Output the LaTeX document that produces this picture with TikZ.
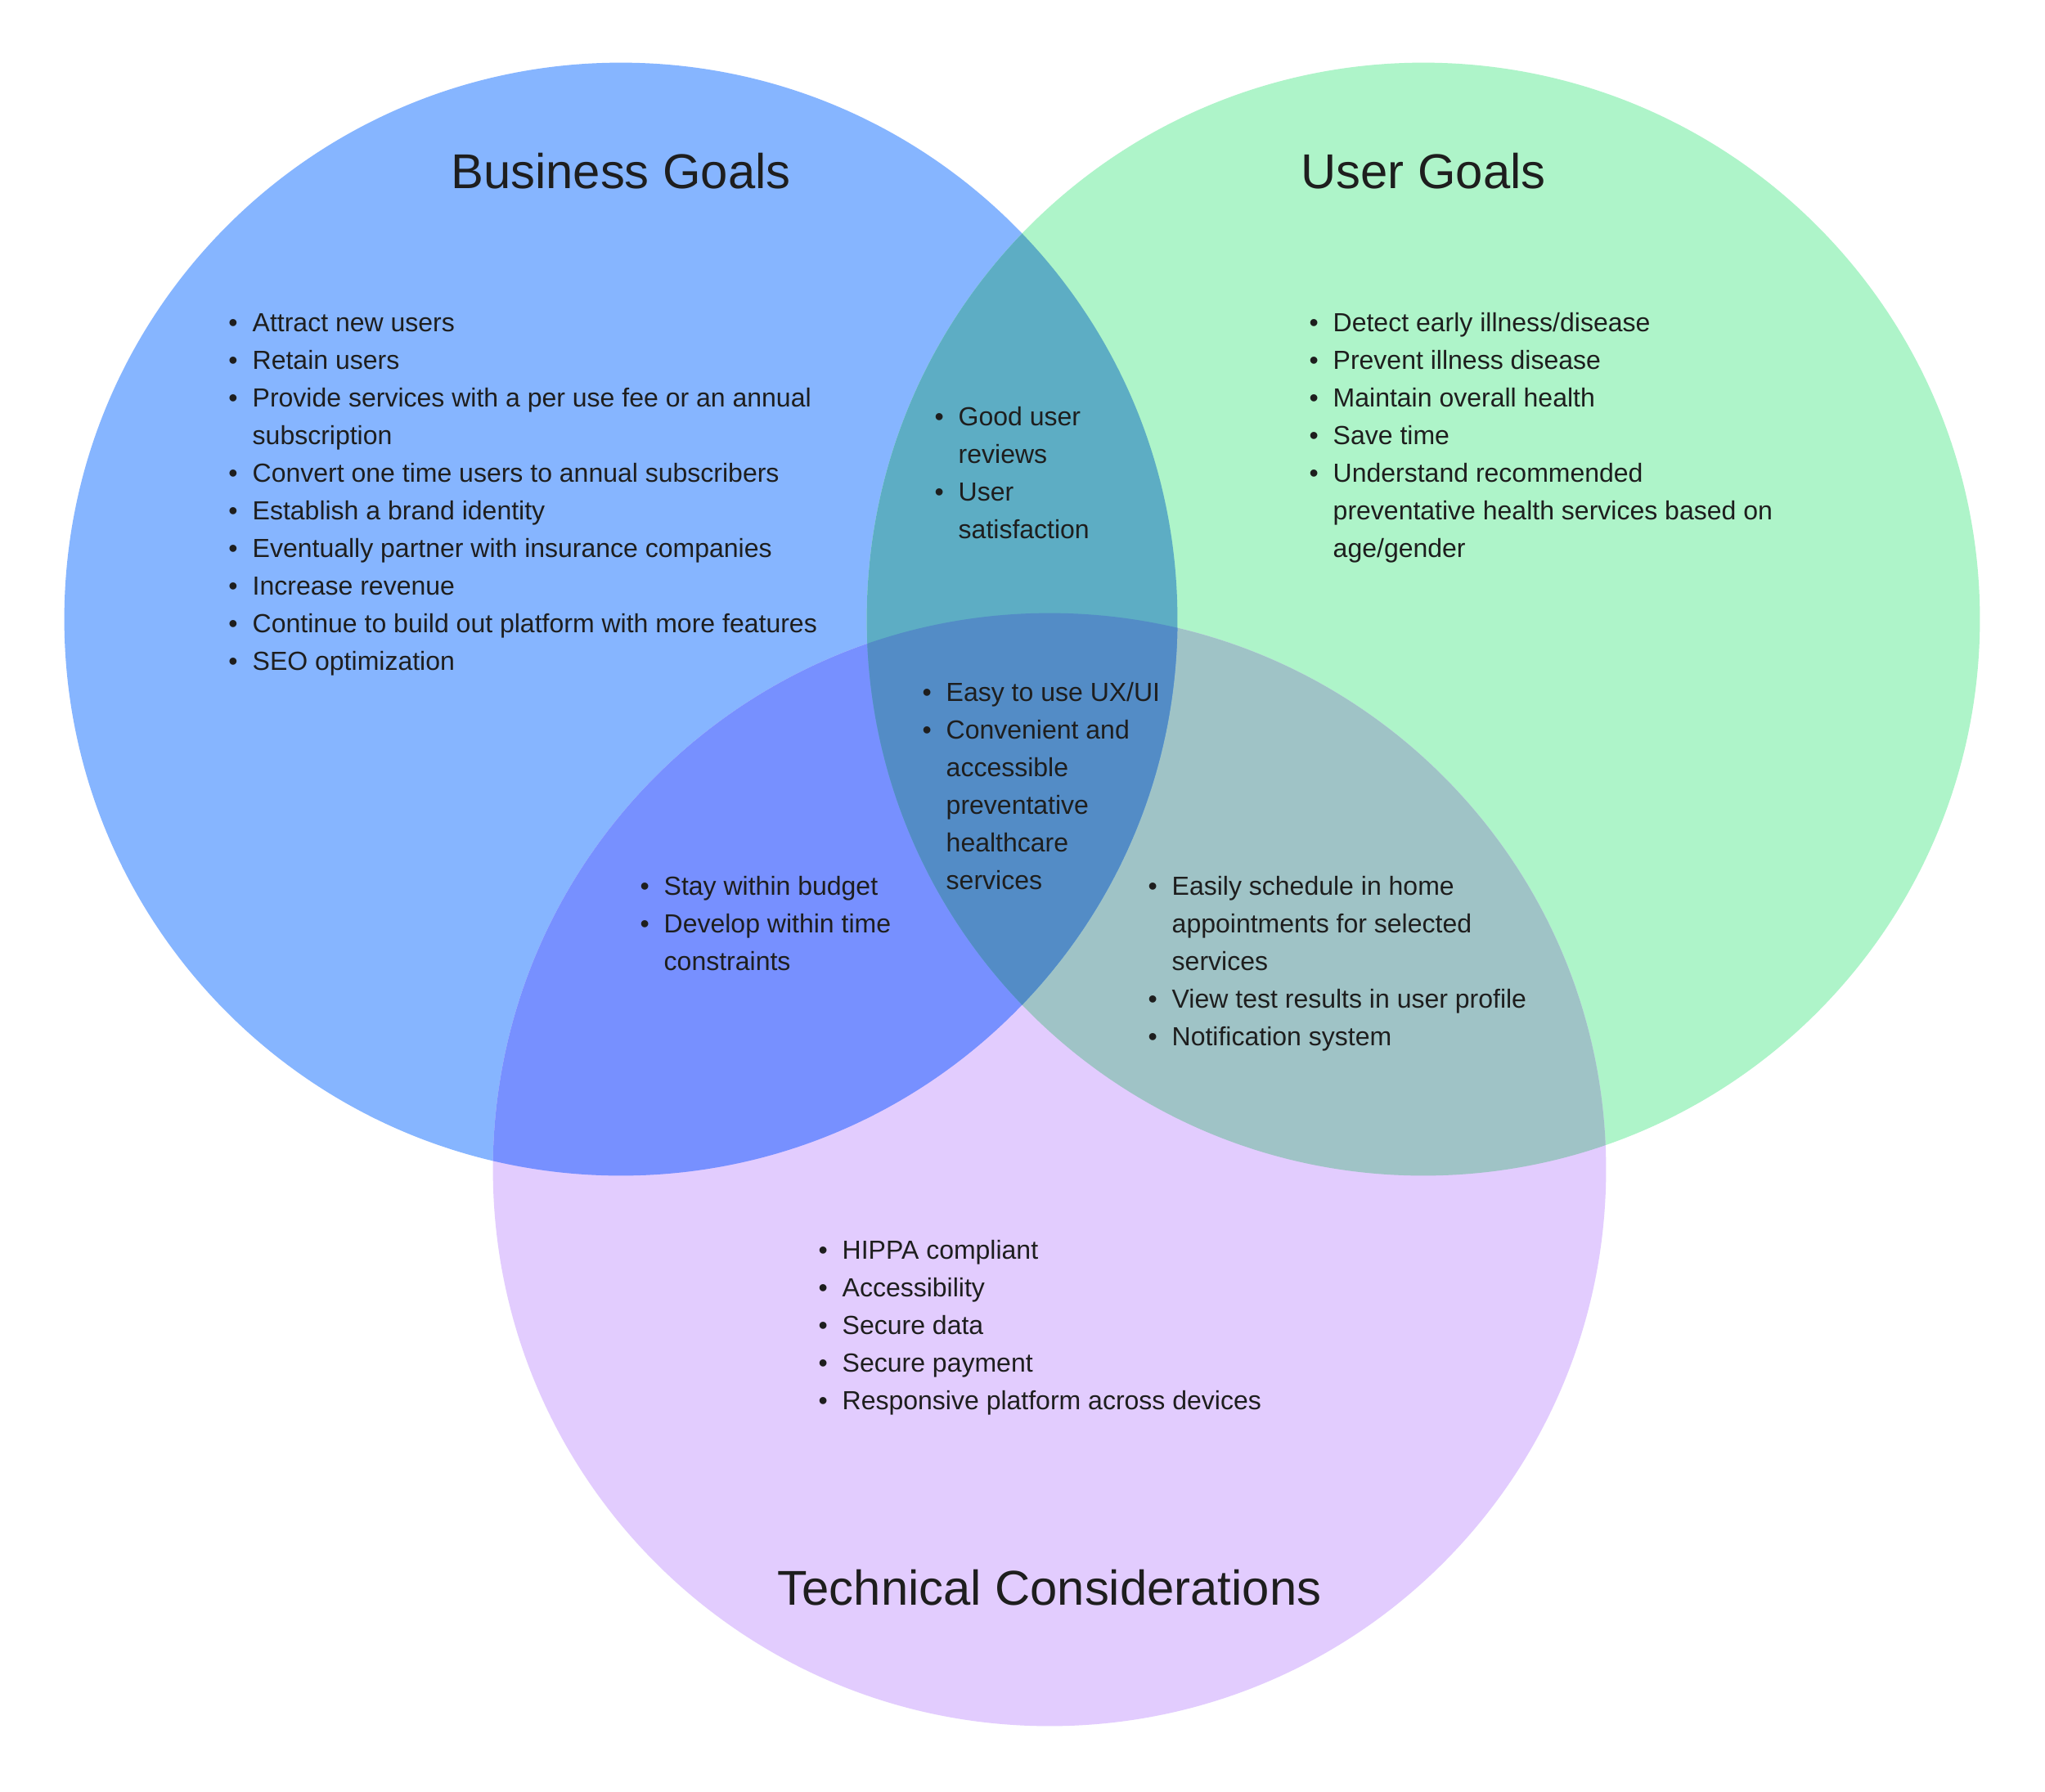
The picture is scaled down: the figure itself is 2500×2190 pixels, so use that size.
\documentclass[tikz,border=0pt]{standalone}
\usepackage{fontspec}
\setmainfont{Liberation Sans}
\definecolor{bizblue}{HTML}{86B5FF}
\definecolor{usrgreen}{HTML}{AEF4C9}
\definecolor{techpurple}{HTML}{E2CCFE}
\definecolor{bizusr}{HTML}{5DADC4}
\definecolor{biztech}{HTML}{7790FF}
\definecolor{usrtech}{HTML}{9FC3C6}
\definecolor{allthree}{HTML}{538CC6}
\definecolor{ink}{HTML}{1E1E1E}
\newcommand{\bul}{\llap{\textbullet\hspace{0.18cm}}}
\newcommand{\goallist}[1]{\begin{tabular}[t]{@{}l@{}}#1\end{tabular}}
\begin{document}
\begin{tikzpicture}[x=0.01cm, y=-0.01cm]
  % Define styles
  \tikzstyle{title}=[anchor=base, inner sep=0pt, text=ink, font=\fontsize{17}{20}\selectfont]
  \tikzstyle{goals}=[anchor=base west, inner sep=0pt, text=ink, font=\fontsize{9.1}{13.1}\selectfont]
  \tikzstyle{set}=[radius=6.8cm]

  \useasboundingbox[fill=white] (0,0) rectangle (2500,2190);

  % Circle centres
  \coordinate (biz) at (759,757);
  \coordinate (usr) at (1740,757);
  \coordinate (tech) at (1283,1430);

  % Circles
  \fill[bizblue, set] (biz) circle;
  \fill[usrgreen, set] (usr) circle;
  \fill[techpurple, set] (tech) circle;

  % Overlaps
  \begin{scope}
    \clip[set] (usr) circle;
    \fill[usrtech, set] (tech) circle;
  \end{scope}
  \begin{scope}
    \clip[set] (biz) circle;
    \fill[biztech, set] (tech) circle;
    \fill[bizusr, set] (usr) circle;
    \clip[set] (usr) circle;
    \fill[allthree, set] (tech) circle;
  \end{scope}

  % Titles
  \node[title] (biztitle) at (759,230) {Business Goals};
  \node[title] (usrtitle) at (1740,230) {User Goals};
  \node[title] (techtitle) at (1283,1962) {Technical Considerations};

  % Lists
  \node[goals] (bizlist) at (308,405) {\goallist{\bul Attract new users\\ \bul Retain users\\ \bul Provide services with a per use fee or an annual\\ subscription\\ \bul Convert one time users to annual subscribers\\ \bul Establish a brand identity\\ \bul Eventually partner with insurance companies\\ \bul Increase revenue\\ \bul Continue to build out platform with more features\\ \bul SEO optimization}};
  \node[goals] (usrlist) at (1629,405) {\goallist{\bul Detect early illness/disease\\ \bul Prevent illness disease\\ \bul Maintain overall health\\ \bul Save time\\ \bul Understand recommended\\ preventative health services based on\\ age/gender}};
  \node[goals] (bizusrlist) at (1171,520) {\goallist{\bul Good user\\ reviews\\ \bul User\\ satisfaction}};
  \node[goals] (alllist) at (1156,857) {\goallist{\bul Easy to use UX/UI\\ \bul Convenient and\\ accessible\\ preventative\\ healthcare\\ services}};
  \node[goals] (biztechlist) at (811,1094) {\goallist{\bul Stay within budget\\ \bul Develop within time\\ constraints}};
  \node[goals] (usrtechlist) at (1432,1094) {\goallist{\bul Easily schedule in home\\ appointments for selected\\ services\\ \bul View test results in user profile\\ \bul Notification system}};
  \node[goals] (techlist) at (1029,1539) {\goallist{\bul HIPPA compliant\\ \bul Accessibility\\ \bul Secure data\\ \bul Secure payment\\ \bul Responsive platform across devices}};
\end{tikzpicture}
\end{document}
